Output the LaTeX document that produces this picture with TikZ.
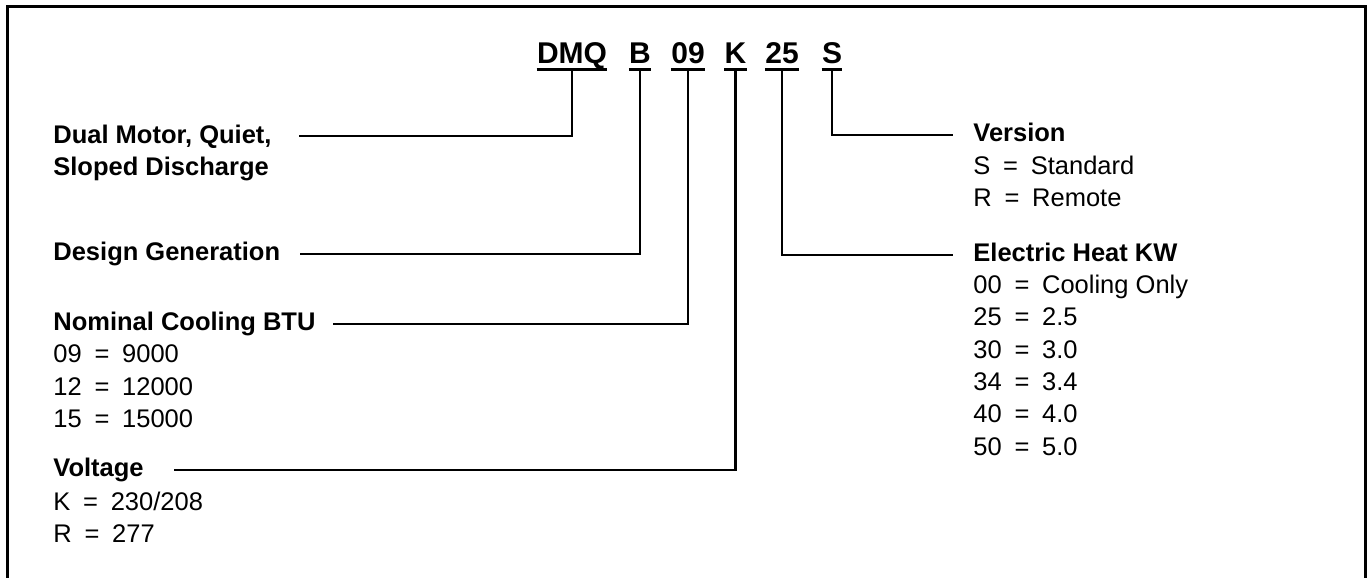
\documentclass[tikz,border=0pt]{standalone}
\usepackage{fontspec}
\setmainfont{Liberation Sans}

\tikzset{
	code/.style={font=\fontsize{15}{18}\selectfont\bfseries, inner xsep=0pt, inner ysep=3pt, text depth=0pt, anchor=base},
	head/.style={font=\fontsize{12.75}{16.2}\selectfont\bfseries, inner sep=0pt, text height=8pt, text depth=1pt, anchor=base west},
	vals/.style={font=\fontsize{12.75}{16.2}\selectfont, inner sep=0pt, align=left, anchor=north west},
	leader/.style={line width=1.2pt},
}
\newcommand{\eqsep}{\enspace=\enspace}

\begin{document}
\begin{tikzpicture}[x=0.5pt, y=-0.5pt]
				\useasboundingbox (0,0) rectangle (1367,578);
				\draw[line width=1.5pt] (7,600) -- (7,6) -- (1365,6) -- (1365,600);
				% model number
				\node[code] (dmq)at(572, 63) {DMQ};
				\node[code] (b)at(640, 63) {B};
				\node[code] (n09)at(688, 63) {09};
				\node[code] (k)at(735.5, 63) {K};
				\node[code] (n25)at(782, 63) {25};
				\node[code] (s)at(832, 63) {S};
				\foreach \c in {dmq, b, n09, k, n25, s}
					\draw[leader] (\c.south west) -- (\c.south east);
				% left side
				\node[head] (dual)at(53, 143) {Dual Motor, Quiet,};
				\node[head] (sloped)at(53, 175) {Sloped Discharge};
				\node[head] (design)at(53, 260.7) {Design Generation};
				\node[head] (nominal)at(53, 330.7) {Nominal Cooling BTU};
				\node[vals] (btu)at(53, 344.5) {09\eqsep 9000\\12\eqsep 12000\\15\eqsep 15000};
				\node[head] (voltage)at(53, 476.7) {Voltage};
				\node[vals] (volts)at(53, 491.5) {K\eqsep 230/208\\R\eqsep 277};
				% right side
				\node[head] (version)at(973, 141.7) {Version};
				\node[vals] (versions)at(973, 155.5) {S\eqsep Standard\\R\eqsep Remote};
				\node[head] (heat)at(973, 261.7) {Electric Heat KW};
				\node[vals] (kw)at(973, 274.5) {00\eqsep Cooling Only\\25\eqsep 2.5\\30\eqsep 3.0\\34\eqsep 3.4\\40\eqsep 4.0\\50\eqsep 5.0};
				% leaders
				\draw[leader] (dmq.south) |- ([xshift=13.5pt]dual.east);
				\draw[leader] (b.south) |- ([xshift=9.5pt]design.east);
				\draw[leader] (n09.south) |- ([xshift=8.5pt]nominal.east);
				\draw[leader] (k.south) |- ([xshift=15pt]voltage.east);
				\draw[leader] (s.south) |- ([xshift=-10pt]version.west);
				\draw[leader] (n25.south) |- ([xshift=-10pt]heat.west);
			\end{tikzpicture}
\end{document}
